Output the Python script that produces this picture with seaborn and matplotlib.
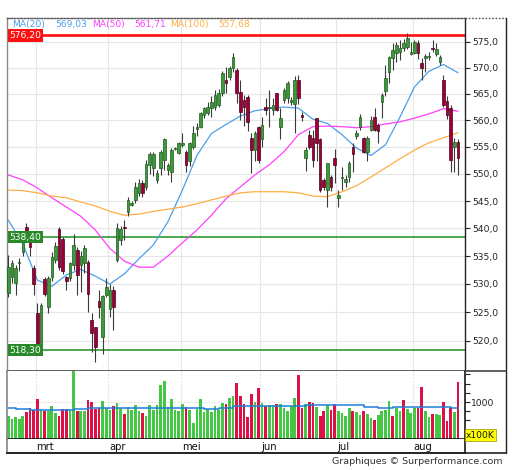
import numpy as np
import pandas as pd
import matplotlib
matplotlib.use("Agg")
import matplotlib.pyplot as plt
import matplotlib.transforms as mtransforms
from matplotlib.lines import Line2D
from matplotlib.ticker import NullLocator, NullFormatter, FixedLocator, FuncFormatter
import seaborn as sns

# ---------------- data ----------------
opens = [528.4, 531.2, 530.1, 533.7, 535.7, 540.3, 537.5, 532.9, 524.9, 518.9,
         530.9, 525.9, 531.2, 534.3, 539.9, 538.0, 531.2, 531.0, 533.4, 536.1,
         533.4, 533.8, 533.9, 523.6, 522.4, 527.0, 520.6, 528.0, 525.5, 529.0,
         534.3, 537.9, 540.3, 543.0, 544.3, 545.2, 546.5, 548.3, 547.6, 551.7,
         551.0, 548.9, 551.0, 552.6, 550.8, 550.4, 554.7, 553.9, 555.4, 554.1,
         552.3, 555.0, 558.3, 558.8, 561.0, 561.4, 562.3, 562.5, 562.9, 565.2,
         567.6, 568.2, 569.9, 569.5, 565.4, 563.9, 564.4, 556.7, 554.4, 558.8,
         556.4, 562.5, 562.3, 562.0, 565.2, 558.8, 563.9, 564.2, 563.5, 563.0,
         567.6, 561.0, 553.0, 557.3, 556.7, 560.4, 556.4, 548.9, 547.0, 549.4,
         553.0, 545.6, 549.2, 548.5, 549.4, 555.0, 557.0, 558.8, 556.7, 554.1,
         558.2, 560.6, 559.2, 563.5, 565.6, 569.2, 571.8, 572.8, 573.0, 573.8,
         574.0, 572.6, 572.8, 574.7, 570.9, 571.8, 572.0, 573.8, 572.6, 571.1,
         567.6, 563.7, 562.3, 555.0, 556.0]
closes = [533.0, 533.7, 532.8, 534.0, 537.5, 539.4, 536.6, 530.0, 518.9, 526.3,
          528.2, 531.0, 534.8, 536.8, 533.0, 532.3, 530.6, 533.7, 537.0, 531.6,
          535.0, 536.4, 528.2, 521.4, 518.9, 525.9, 527.9, 529.4, 529.0, 526.0,
          540.1, 539.9, 540.0, 545.2, 544.6, 547.6, 548.3, 546.5, 551.9, 553.6,
          553.6, 550.2, 554.1, 556.4, 551.7, 554.4, 554.8, 555.8, 555.8, 551.7,
          555.8, 557.7, 558.8, 561.4, 562.3, 562.5, 563.5, 564.8, 565.2, 569.0,
          567.1, 569.9, 572.0, 565.2, 561.6, 562.5, 559.7, 554.4, 557.7, 552.6,
          559.2, 562.0, 562.5, 562.9, 562.0, 560.4, 565.7, 567.1, 563.9, 567.6,
          564.2, 560.6, 554.4, 555.0, 552.6, 555.8, 547.0, 547.6, 552.1, 547.6,
          551.7, 546.1, 549.4, 549.0, 552.1, 553.6, 557.7, 560.6, 554.1, 556.7,
          560.1, 558.2, 557.9, 564.8, 568.0, 572.0, 573.4, 574.4, 573.8, 574.7,
          575.7, 573.0, 574.9, 572.8, 569.9, 572.2, 572.2, 573.6, 573.6, 572.0,
          562.9, 561.0, 552.6, 556.0, 553.0]
highs = [535.2, 534.3, 533.4, 534.6, 538.0, 541.0, 538.3, 533.4, 526.6, 526.7,
         531.2, 531.4, 535.7, 537.5, 540.3, 538.5, 531.4, 534.0, 539.0, 536.6,
         536.0, 537.0, 534.3, 524.9, 522.4, 529.0, 528.0, 531.0, 530.0, 529.6,
         541.0, 540.5, 541.5, 545.8, 545.0, 548.5, 549.0, 548.9, 552.6, 554.1,
         554.1, 550.8, 554.4, 556.6, 552.1, 554.8, 555.0, 555.9, 557.7, 554.4,
         556.0, 559.0, 559.5, 561.6, 562.5, 563.5, 564.6, 565.7, 565.9, 569.4,
         570.1, 570.3, 572.8, 570.0, 567.6, 564.8, 564.8, 557.7, 557.9, 559.0,
         560.6, 564.2, 565.7, 564.2, 565.2, 562.3, 566.1, 567.4, 564.4, 568.4,
         568.6, 561.6, 555.0, 558.2, 558.2, 560.4, 556.7, 549.2, 552.1, 549.8,
         554.6, 547.0, 551.2, 549.8, 552.4, 555.8, 558.2, 561.2, 556.9, 557.0,
         560.8, 562.3, 559.5, 565.2, 570.5, 572.2, 574.8, 575.0, 575.3, 575.6,
         576.6, 575.0, 575.3, 575.3, 571.8, 572.6, 573.0, 575.3, 574.8, 572.4,
         568.6, 564.6, 562.9, 556.7, 556.4]
lows = [527.7, 530.1, 528.0, 532.3, 535.0, 538.3, 535.0, 528.0, 517.8, 518.4,
        527.8, 524.9, 530.5, 533.7, 532.5, 531.8, 529.0, 530.5, 532.5, 528.0,
        528.5, 532.0, 525.0, 518.0, 516.3, 524.0, 517.7, 527.6, 524.2, 521.8,
        534.0, 537.0, 537.9, 542.2, 544.0, 544.6, 546.0, 545.8, 547.0, 550.0,
        549.6, 548.3, 549.8, 550.8, 549.8, 548.5, 554.4, 553.6, 555.0, 550.4,
        551.4, 554.6, 557.0, 558.6, 560.4, 561.0, 560.7, 562.0, 562.5, 564.6,
        565.2, 567.6, 569.2, 563.3, 560.1, 559.0, 557.9, 550.2, 552.3, 552.0,
        555.0, 561.0, 558.8, 561.0, 561.7, 556.4, 563.3, 563.3, 562.9, 557.7,
        563.0, 559.9, 550.6, 554.6, 551.2, 552.3, 546.7, 547.0, 543.9, 546.9,
        548.3, 543.9, 547.0, 547.6, 548.5, 550.4, 556.4, 558.2, 553.9, 552.3,
        557.9, 558.0, 555.8, 560.4, 564.6, 567.1, 569.5, 571.1, 571.5, 573.2,
        573.6, 572.4, 572.6, 571.6, 567.6, 569.2, 571.5, 573.0, 572.2, 570.5,
        562.5, 560.2, 550.4, 550.4, 549.8]

# volume in units of 100K, and whether the bar is drawn green
volumes = [610, 537, 582, 537, 610, 737, 837, 792, 1074, 792,
           764, 764, 892, 701, 610, 819, 819, 774, 1838, 764,
           764, 764, 1047, 1001, 819, 837, 1019, 837, 792, 892,
           974, 837, 664, 865, 792, 919, 746, 701, 610, 919,
           792, 919, 1465, 1583, 874, 1074, 792, 755, 946, 855,
           783, 428, 819, 1074, 737, 810, 728, 892, 792, 974,
           946, 1101, 1174, 1520,
           1156, 946, 582, 1229, 1001, 1383, 974, 883, 910, 910,
           946, 946, 837, 764, 883, 1110, 1747, 837, 946, 1001,
           983, 865, 610, 746, 910, 792, 946, 764, 692, 610,
           837, 764, 719, 655, 764, 673, 564, 500, 655, 764,
           792, 1019, 610, 837, 746, 1065, 810, 701, 837, 837,
           1401, 764, 582, 683, 683, 637, 992, 473, 837, 728,
           1538]
vol_up = [1, 1, 1, 1, 1, 0, 0, 0, 0, 1, 0, 1, 1, 1, 0, 0, 0, 1, 1, 0,
          1, 1, 0, 0, 0, 0, 1, 1, 1, 0, 1, 1, 0, 1, 1, 1, 1, 0, 1, 1,
          1, 1, 1, 1, 1, 1, 1, 1, 1, 0, 1, 1, 1, 1, 1, 1, 1, 1, 1, 1,
          0, 1, 1, 0,
          0, 0, 0, 0, 1, 0, 1, 0, 1, 1, 0, 1, 1, 1, 1, 1, 0, 0, 1, 0,
          0, 1, 0, 0, 1, 0, 0, 1, 1, 1, 1, 0, 1, 1, 0, 1, 1, 0, 1, 1,
          1, 1, 0, 1, 1, 0, 1, 1, 1, 0, 0, 1, 1, 0, 1, 1, 0, 0, 0, 1,
          0]

# moving averages read every 4 sessions
ma_idx = list(range(0, 125, 4))
ma20 = [541.5, 537.2, 530.7, 529.6, 531.6, 532.6, 531.4, 530.0, 531.8, 534.5,
        537.0, 541.2, 547.0, 553.4, 557.5, 559.2, 560.8, 561.8, 562.2, 562.5,
        562.3, 560.2, 559.4, 557.3, 554.8, 553.4, 555.4, 560.6, 566.3, 569.3,
        570.6, 569.03]
ma50 = [549.8, 548.9, 547.4, 545.6, 543.9, 542.2, 539.7, 536.4, 534.1, 533.0,
        533.0, 535.0, 537.4, 539.7, 542.4, 545.4, 547.6, 549.8, 551.7, 554.1,
        557.3, 558.8, 558.9, 558.8, 558.6, 558.8, 559.3, 559.7, 560.4, 561.2,
        562.2, 561.71]
ma100 = [547.0, 546.9, 546.5, 545.9, 545.6, 544.8, 544.1, 543.1, 542.4, 542.6,
         543.1, 543.5, 543.9, 544.5, 545.2, 545.9, 546.5, 546.7, 546.7, 546.7,
         546.5, 545.9, 545.8, 546.7, 547.8, 549.4, 551.1, 552.8, 554.4, 555.8,
         556.7, 557.68]
vol_ma = [836, 810, 791, 791, 791, 818, 836, 836, 836, 836,
          827, 827, 827, 827, 800, 836, 880, 891, 891, 891,
          900, 905, 905, 905, 905, 864, 845, 859, 859, 859,
          859, 827]

ma_names = ["MA(20)", "MA(50)", "MA(100)"]
ma_last = [569.03, 561.71, 557.68]
levels = [576.20, 538.40, 518.30]
level_kind = ["resistance", "support", "support"]

month_labels = ["mrt", "apr", "mei", "jun", "jul", "aug"]
month_first = [8, 28, 48, 70, 91, 112]

price_ticks = [520, 525, 530, 535, 540, 545, 550, 555, 560, 565, 570, 575]

# ---------------- styling ----------------
C_UP = "#3c9a3c"
C_UP_E = "#1d5a1d"
C_DN = "#a0003a"
C_DN_E = "#4a0018"
C_WICK = "#3a3a3a"
C_VUP = "#44c744"
C_VDN = "#dd1148"
C_MA = ["#4aa0ea", "#ff40ff", "#ffae45"]
C_GRID = "#e6e6e6"
FS = 6.6

sns.set_theme(style="white")
plt.rcParams["font.family"] = ["DejaVu Sans"]

W, H = 512, 470
fig = plt.figure(figsize=(W / 100, H / 100), dpi=100)
fig.patch.set_facecolor("white")


def fr(l, t, r, b):
    return [l / W, 1 - b / H, (r - l) / W, (b - t) / H]


ax = fig.add_axes(fr(6.5, 18, 464.5, 371.3))
axv = fig.add_axes(fr(6.5, 371.3, 464.5, 438.7))
axd = fig.add_axes(fr(6.5, 438.7, 464.5, 453.3))

n = len(closes)
idx = np.arange(n)
o = np.array(opens)
c = np.array(closes)
hi = np.array(highs)
lo = np.array(lows)
XL = (-0.5, 125.8)

# ---------------- price panel ----------------
ax.set_yscale("log")
ax.set_xlim(*XL)
ax.set_ylim(514.66, 579.6)

for t in price_ticks:
    ax.axhline(t, color=C_GRID, lw=0.8, zorder=0)
for m in month_first:
    ax.axvline(m - 0.5, color=C_GRID, lw=0.8, zorder=0)

level_col = {"resistance": "#ff1010", "support": "#2f9a2f"}
level_box = {"resistance": "#ff1010", "support": "#2a8a2a"}
for lv, kind in zip(levels, level_kind):
    ax.axhline(lv, color=level_col[kind], lw=1.9 if kind == "resistance" else 1.2, zorder=1)

ma_df = pd.DataFrame({"i": ma_idx, "MA(20)": ma20, "MA(50)": ma50, "MA(100)": ma100})
for name, col in zip(ma_names, C_MA):
    sns.lineplot(data=ma_df, x="i", y=name, ax=ax, color=col, lw=0.9, zorder=2,
                 legend=False)

ax.vlines(idx, lo, hi, color=C_WICK, lw=0.8, zorder=3)
up = c >= o
body_bot = np.minimum(o, c)
body_h = np.maximum(np.abs(c - o), 0.18)
ax.bar(idx, body_h, bottom=body_bot, width=0.72,
       color=np.where(up, C_UP, C_DN), edgecolor=np.where(up, C_UP_E, C_DN_E),
       lw=0.5, zorder=4)

blend = mtransforms.blended_transform_factory(ax.transAxes, ax.transData)
for lv, kind in zip(levels, level_kind):
    ax.text(0.006, lv, f"{lv:.2f}".replace(".", ","), transform=blend,
            ha="left", va="center", color="white", fontsize=FS, zorder=6,
            bbox=dict(boxstyle="square,pad=0.18", fc=level_box[kind], ec="none"))

ax.yaxis.tick_right()
ax.yaxis.set_major_locator(FixedLocator(price_ticks))
ax.yaxis.set_major_formatter(FuncFormatter(lambda v, p: f"{v:.1f}".replace(".", ",")))
ax.yaxis.set_minor_locator(NullLocator())
ax.yaxis.set_minor_formatter(NullFormatter())
ax.tick_params(axis="y", which="major", labelsize=FS, length=3.5, width=0.8,
               direction="out", pad=2, colors="#222222", right=True, left=False)
ax.set_xticks([])
ax.set_xlabel("")
ax.set_ylabel("")
for s in ax.spines.values():
    s.set_visible(True)
ax.spines["left"].set_color("#8a8a8a")
ax.spines["left"].set_linewidth(1.0)
ax.spines["top"].set_color("#555555")
ax.spines["top"].set_linestyle((0, (1.2, 1.2)))
ax.spines["top"].set_linewidth(1.0)
ax.spines["right"].set_color("#222222")
ax.spines["right"].set_linewidth(1.0)
ax.spines["bottom"].set_color("#444444")
ax.spines["bottom"].set_linewidth(1.2)

# legend text at the top
legend_x = [12, 92, 170]
value_x = [55, 134, 218]
for name, val, col, lx, vx in zip(ma_names, ma_last, C_MA, legend_x, value_x):
    fig.text(lx / W, 1 - 25 / H, name, color=col, fontsize=FS, ha="left", va="center")
    fig.text(vx / W, 1 - 25 / H, f"{val:.2f}".replace(".", ","), color=col,
             fontsize=FS, ha="left", va="center")

# ---------------- volume panel ----------------
axv.set_xlim(*XL)
axv.set_ylim(0, 1837)
for m in month_first:
    axv.axvline(m - 0.5, color=C_GRID, lw=0.8, zorder=0, ls=(0, (2, 1)))
axv.axhline(1000, color=C_GRID, lw=0.8, zorder=0, ls=(0, (2, 1)))
vu = np.array(vol_up).astype(bool)
axv.bar(idx, volumes, width=0.74, color=np.where(vu, C_VUP, C_VDN), lw=0, zorder=2)
sns.lineplot(x=ma_idx, y=vol_ma, ax=axv, color="#1f7fd8", lw=1.1, zorder=3,
             drawstyle="steps-mid")
axv.yaxis.tick_right()
axv.set_yticks([250, 500, 750, 1000, 1250, 1500, 1750])
axv.set_yticklabels(["", "", "", "1000", "", "", ""])
axv.tick_params(axis="y", labelsize=FS, length=3.5, width=0.8, direction="out",
                pad=1, colors="#222222", right=True, left=False)
axv.set_xticks([])
axv.set_xlabel("")
axv.set_ylabel("")
for s in axv.spines.values():
    s.set_visible(True)
axv.spines["top"].set_visible(False)
axv.spines["left"].set_color("#8a8a8a")
axv.spines["right"].set_color("#222222")
axv.spines["bottom"].set_color("#111111")
axv.spines["bottom"].set_linewidth(1.2)

fig.text(466 / W, 1 - 435 / H, "x100K", fontsize=FS, ha="left", va="center",
         color="#111111",
         bbox=dict(boxstyle="square,pad=0.12", fc="#ffff00", ec="#999900", lw=0.5))

# ---------------- date strip ----------------
axd.set_xlim(*XL)
axd.set_ylim(0, 1)
axd.set_xticks([])
axd.set_yticks([])
for s in axd.spines.values():
    s.set_visible(True)
axd.spines["top"].set_visible(False)
axd.spines["left"].set_color("#8a8a8a")
axd.spines["right"].set_color("#222222")
axd.spines["bottom"].set_color("#222222")
axd.spines["bottom"].set_linewidth(1.2)
for lab, m in zip(month_labels, month_first):
    axd.text(m - 0.2, 0.45, lab, fontsize=7.2, ha="left", va="center", color="#111111")

# ---------------- outer frame ----------------
def fline(x0, y0, x1, y1, **kw):
    fig.add_artist(Line2D([x0 / W, x1 / W], [1 - y0 / H, 1 - y1 / H],
                          transform=fig.transFigure, **kw))


fline(464.5, 18, 506, 18, color="#555555", lw=1.0, ls=(0, (1.2, 1.2)))
fline(506, 18, 506, 453.3, color="#222222", lw=1.0)
fline(6.5, 453.3, 506, 453.3, color="#222222", lw=1.2)
fline(464.5, 371.3, 506, 371.3, color="#444444", lw=1.2)

fig.text(503 / W, 1 - 461 / H, "Graphiques \u00a9 Surperformance.com", fontsize=6.8,
         ha="right", va="center", color="#333333")

fig.savefig("out.png", dpi=100, facecolor="white")
